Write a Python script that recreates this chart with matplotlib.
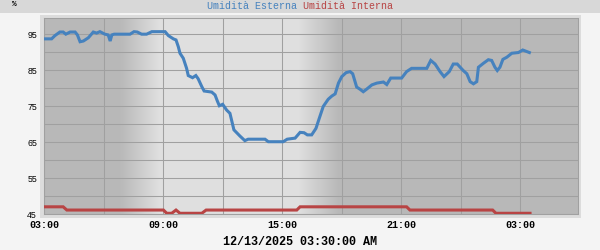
import numpy as np
import pandas as pd
import matplotlib
matplotlib.use("Agg")
import matplotlib.pyplot as plt
import matplotlib.dates as mdates
from matplotlib.patches import Rectangle

# readings, clock time "HH:MM" starting 12/12/2025 03:00 (rolls over midnight)
esterna_times = [
    "03:00", "03:23", "03:33", "03:48", "03:58", "04:06", "04:19", "04:34", "04:41", "04:49",
    "04:59", "05:14", "05:29", "05:39", "05:49", "06:04", "06:14", "06:20", "06:25", "06:32",
    "07:20", "07:32", "07:42", "07:55", "08:10", "08:26", "09:06", "09:16", "09:31", "09:39",
    "09:46", "09:51", "10:01", "10:11", "10:16", "10:29", "10:39", "10:46", "10:57", "11:04",
    "11:27", "11:37", "11:44", "11:50", "12:00", "12:12", "12:22", "12:34", "12:52", "13:07",
    "13:17", "14:08", "14:18", "15:03", "15:15", "15:39", "15:54", "16:06", "16:16", "16:29",
    "16:42", "16:52", "17:04", "17:19", "17:30", "17:40", "17:50", "18:00", "18:13", "18:25",
    "18:33", "18:45", "18:55", "19:05", "19:15", "19:31", "19:46", "20:06", "20:16", "20:28",
    "21:01", "21:16", "21:31", "22:17", "22:29", "22:42", "22:57", "23:09", "23:25", "23:37",
    "23:49", "00:07", "00:18", "00:28", "00:38", "00:48", "00:53", "01:08", "01:23", "01:33",
    "01:43", "01:50", "01:58", "02:07", "02:19", "02:34", "02:54", "03:07", "03:27",
]
esterna_vals = [
    93.7, 93.7, 94.6, 95.6, 95.6, 95.0, 95.6, 95.6, 94.8, 92.9,
    93.1, 94.0, 95.6, 95.3, 95.7, 95.0, 94.8, 93.1, 94.8, 95.0,
    95.0, 95.7, 95.6, 95.0, 95.0, 95.7, 95.7, 94.6, 93.7, 93.4,
    91.5, 89.7, 88.3, 85.5, 83.5, 82.9, 83.5, 82.6, 80.4, 79.2,
    78.9, 78.1, 76.4, 75.1, 75.5, 73.9, 73.0, 68.4, 66.7, 65.4,
    65.8, 65.8, 65.1, 65.1, 65.8, 66.1, 67.7, 67.6, 67.0, 67.0,
    68.8, 71.6, 74.9, 76.9, 77.8, 78.4, 81.4, 83.2, 84.3, 84.6,
    84.0, 80.3, 79.7, 79.0, 79.7, 80.9, 81.4, 81.7, 81.0, 82.8,
    82.8, 84.6, 85.5, 85.5, 87.7, 86.7, 84.6, 83.2, 84.6, 86.7,
    86.7, 84.9, 84.0, 81.8, 81.2, 81.8, 85.8, 86.9, 87.9, 87.7,
    85.8, 84.9, 85.8, 88.0, 88.6, 89.7, 89.9, 90.6, 89.9,
]

interna_times = [
    "03:00", "03:58", "04:09", "09:01", "09:11", "09:26", "09:39", "09:51", "10:57",
    "11:10", "15:44", "15:54", "21:16", "21:26", "01:36", "01:46", "03:29",
]
interna_vals = [
    47.0, 47.0, 46.1, 46.1, 45.2, 45.2, 46.1, 45.2, 45.2,
    46.1, 46.1, 47.0, 47.0, 46.1, 46.1, 45.2, 45.2,
]

start = pd.Timestamp("2025-12-12 03:00")
x_end_hours = 26.9
# twilight bands (start/end of the shade transition)
dawn = ("06:50", "08:51")
dusk = ("15:48", "17:49")

c_est = "#4682be"
c_int = "#b84444"
shade_dark = 0.725
shade_light = 0.878


def to_stamps(times):
    out = []
    day = 0
    prev = None
    for t in times:
        hh, mm = map(int, t.split(":"))
        m = hh * 60 + mm
        if prev is not None and m < prev:
            day += 1
        prev = m
        out.append(start.normalize() + pd.Timedelta(days=day, minutes=m))
    return out


t_est = to_stamps(esterna_times)
t_int = to_stamps(interna_times)
x0 = start
x1 = start + pd.Timedelta(hours=x_end_hours)

fig = plt.figure(figsize=(6, 2.5), dpi=100)
fig.patch.set_facecolor("#f4f4f4")
fig.patches.append(Rectangle((0, 1 - 13 / 250), 1, 13 / 250, transform=fig.transFigure,
                             facecolor="#d8d8d8", edgecolor="none", zorder=0))
fig.patches.append(Rectangle((40 / 600, 1 - 218 / 250), 541 / 600, 203 / 250,
                             transform=fig.transFigure, facecolor="#dcdcdc",
                             edgecolor="none", zorder=0))

ax = fig.add_axes([44 / 600, 36 / 250, 534 / 600, 196 / 250])
ax.set_zorder(2)

# day/night background
dn = [mdates.date2num(x0),
      mdates.date2num(to_stamps([dawn[0]])[0]), mdates.date2num(to_stamps([dawn[1]])[0]),
      mdates.date2num(to_stamps([dusk[0]])[0]), mdates.date2num(to_stamps([dusk[1]])[0]),
      mdates.date2num(x1)]
lv = [shade_dark, shade_dark, shade_light, shade_light, shade_dark, shade_dark]
xs = np.linspace(dn[0], dn[-1], 800)
g = np.interp(xs, dn, lv)
img = np.dstack([g, g, g]).repeat(2, axis=0)
ax.imshow(img, extent=[dn[0], dn[-1], 45, 99.5], aspect="auto", zorder=0,
          interpolation="bilinear")

ax.plot(t_est, esterna_vals, color=c_est, lw=2.2, zorder=3, solid_joinstyle="miter")
ax.plot(t_int, interna_vals, color=c_int, lw=2.2, zorder=3, solid_joinstyle="miter")

ax.set_xlim(x0, x1)
ax.set_ylim(45, 99.5)
ax.xaxis.set_major_locator(mdates.HourLocator(byhour=[3, 9, 15, 21]))
ax.xaxis.set_minor_locator(mdates.HourLocator(byhour=range(0, 24, 3)))
ax.xaxis.set_major_formatter(mdates.DateFormatter("%H:%M"))
ax.set_yticks(np.arange(45, 96, 10))
ax.set_yticks(np.arange(50, 99, 5), minor=True)
ax.grid(True, which="both", color="#a0a0a0", lw=0.75, zorder=1)
ax.set_axisbelow(False)
for ln in ax.get_xgridlines() + ax.get_ygridlines():
    ln.set_zorder(1)
ax.tick_params(which="both", length=0)
ax.tick_params(axis="x", pad=4)
ax.tick_params(axis="y", pad=5)
for lab in ax.get_xticklabels():
    lab.set_fontfamily("Liberation Mono")
    lab.set_fontweight("bold")
    lab.set_fontsize(7.2)
for lab in ax.get_yticklabels():
    lab.set_fontfamily("Liberation Sans")
    lab.set_fontsize(6.3)
for s in ax.spines.values():
    s.set_color("#a0a0a0")
    s.set_linewidth(0.75)

fig.text(297 / 600, 1 - 6 / 250, "Umidità Esterna", color=c_est, ha="right", va="center",
         family="Liberation Mono", fontsize=7.2)
fig.text(303 / 600, 1 - 6 / 250, "Umidità Interna", color=c_int, ha="left", va="center",
         family="Liberation Mono", fontsize=7.2)
fig.text(12 / 600, 1 - 5 / 250, "%", color="black", ha="left", va="center",
         family="Liberation Mono", fontsize=5.5, fontweight="bold")
fig.text(0.5, 1 - 242 / 250, "12/13/2025 03:30:00 AM", ha="center", va="center",
         family="Liberation Mono", fontweight="bold", fontsize=8.5)

fig.savefig("out.png", dpi=100, facecolor=fig.get_facecolor())
